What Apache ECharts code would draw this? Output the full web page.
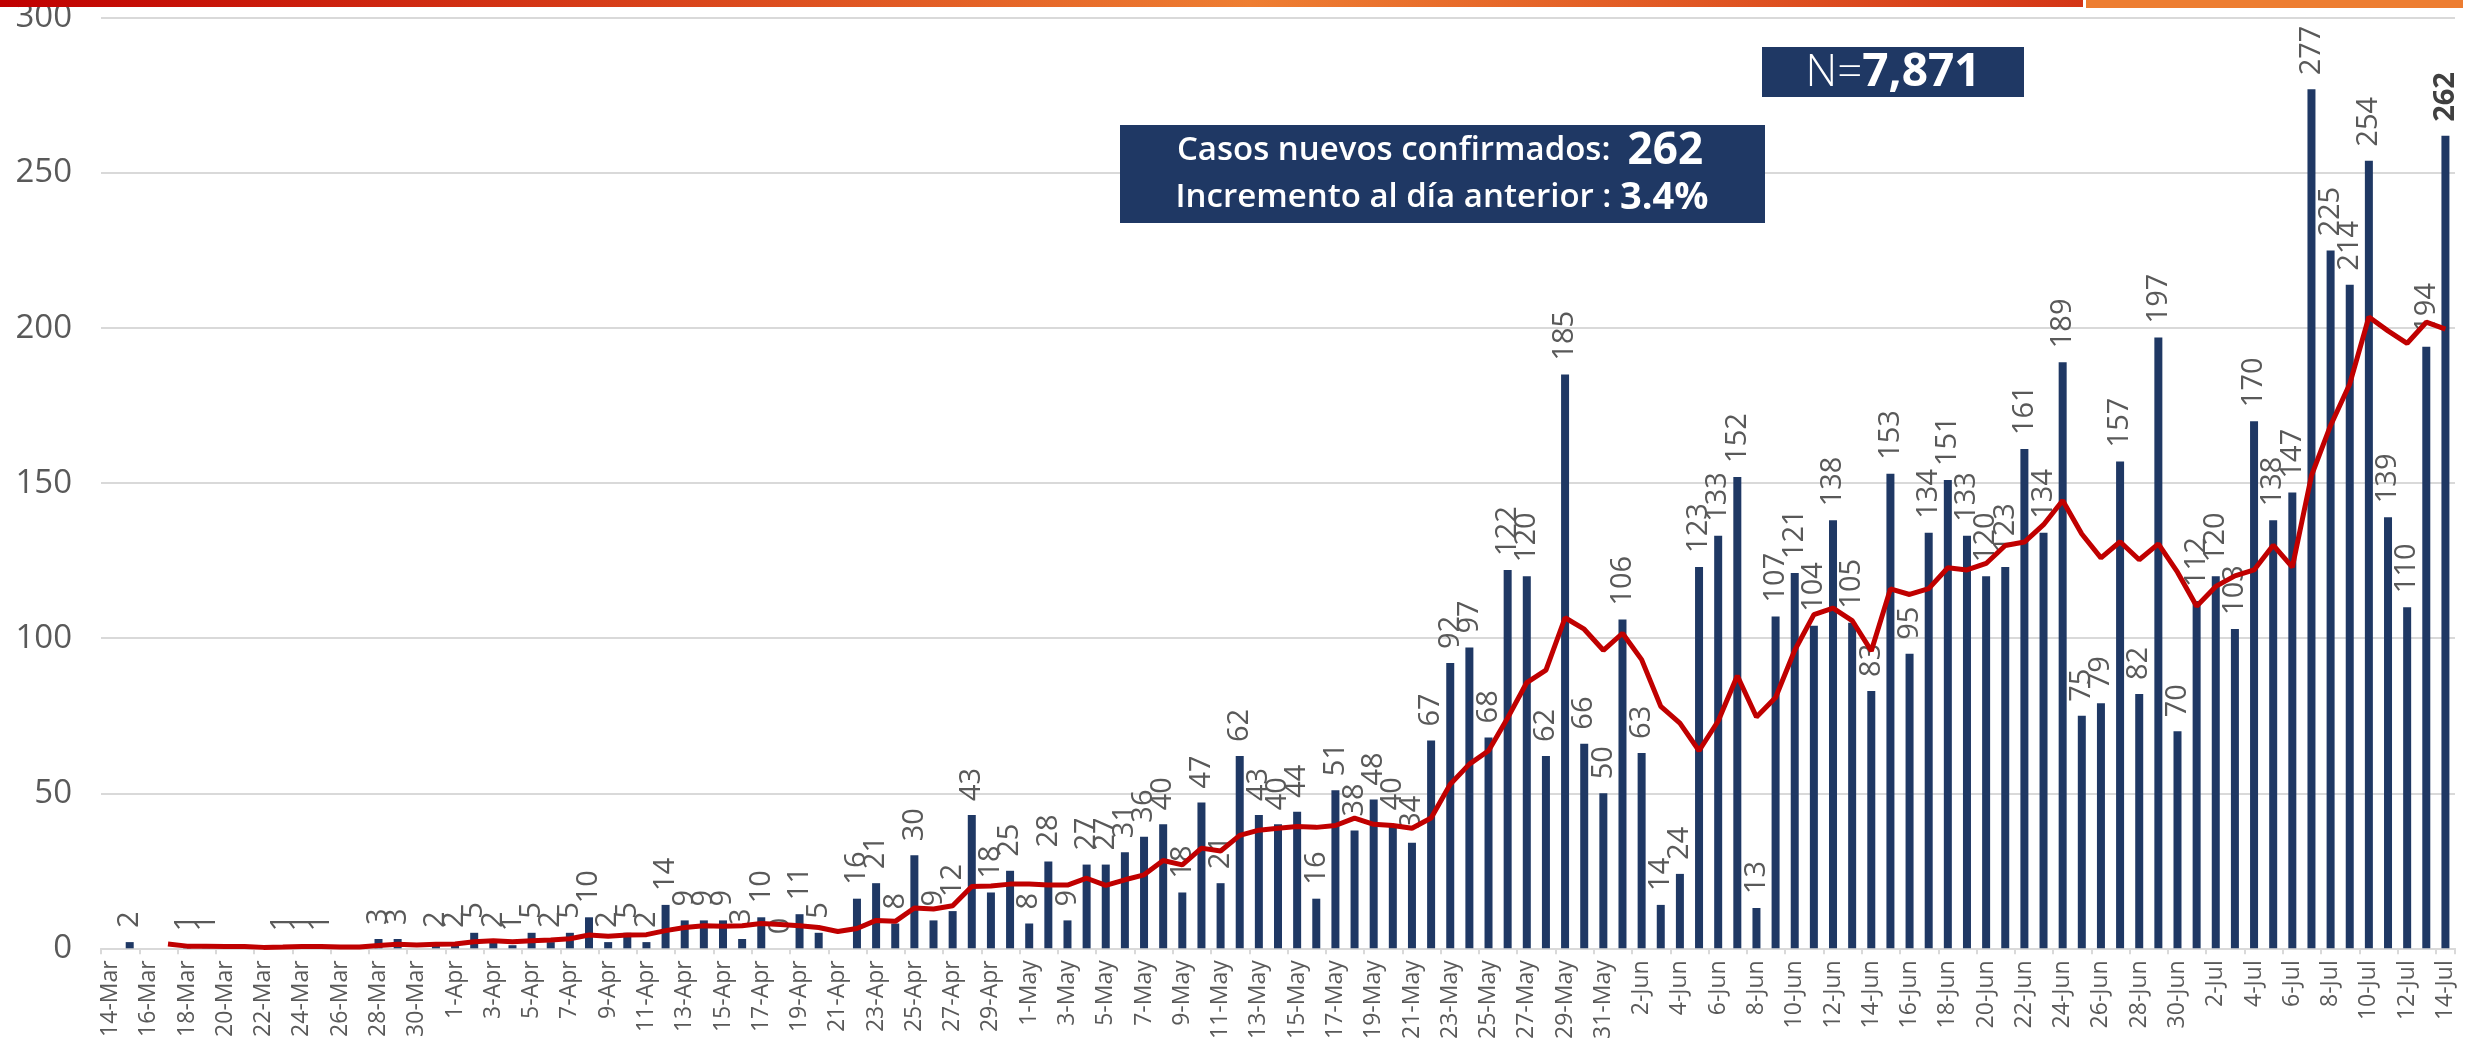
<!DOCTYPE html>
<html>
<head>
<meta charset="utf-8">
<script src="https://cdn.jsdelivr.net/npm/echarts@6/dist/echarts.min.js"></script>
<style>
html,body{margin:0;padding:0;background:#fff;}
#chart{width:2471px;height:1042px;}
</style>
</head>
<body>
<div id="chart"></div>
<script>
var categories = [
 '14-Mar','15-Mar','16-Mar','17-Mar','18-Mar','19-Mar','20-Mar','21-Mar','22-Mar','23-Mar','24-Mar','25-Mar','26-Mar','27-Mar','28-Mar','29-Mar','30-Mar','31-Mar',
 '1-Apr','2-Apr','3-Apr','4-Apr','5-Apr','6-Apr','7-Apr','8-Apr','9-Apr','10-Apr','11-Apr','12-Apr','13-Apr','14-Apr','15-Apr','16-Apr','17-Apr','18-Apr','19-Apr','20-Apr','21-Apr','22-Apr','23-Apr','24-Apr','25-Apr','26-Apr','27-Apr','28-Apr','29-Apr','30-Apr',
 '1-May','2-May','3-May','4-May','5-May','6-May','7-May','8-May','9-May','10-May','11-May','12-May','13-May','14-May','15-May','16-May','17-May','18-May','19-May','20-May','21-May','22-May','23-May','24-May','25-May','26-May','27-May','28-May','29-May','30-May','31-May',
 '1-Jun','2-Jun','3-Jun','4-Jun','5-Jun','6-Jun','7-Jun','8-Jun','9-Jun','10-Jun','11-Jun','12-Jun','13-Jun','14-Jun','15-Jun','16-Jun','17-Jun','18-Jun','19-Jun','20-Jun','21-Jun','22-Jun','23-Jun','24-Jun','25-Jun','26-Jun','27-Jun','28-Jun','29-Jun','30-Jun',
 '1-Jul','2-Jul','3-Jul','4-Jul','5-Jul','6-Jul','7-Jul','8-Jul','9-Jul','10-Jul','11-Jul','12-Jul','13-Jul','14-Jul'
];

// daily new confirmed cases (bars)
var dailyCases = [
 null,2,null,null,1,1,null,null,null,1,1,1,null,null,3,3,null,2,
 2,5,2,1,5,2,5,10,2,5,2,14,9,9,9,3,10,0,11,5,null,16,21,8,30,9,12,43,18,25,
 8,28,9,27,27,31,36,40,18,47,21,62,43,40,44,16,51,38,48,40,34,67,92,97,68,122,120,62,185,66,50,
 106,63,14,24,123,133,152,13,107,121,104,138,105,83,153,95,134,151,133,120,123,161,134,189,75,79,157,82,197,70,
 112,120,103,170,138,147,277,225,214,254,139,110,194,262
];

// 7-day moving average (red line)
var movingAverage = [
 null,null,null,1.4,0.7,0.7,0.6,0.6,0.3,0.4,0.6,0.6,0.4,0.4,0.9,1.3,1.1,1.3,
 1.4,2.1,2.4,2.1,2.4,2.7,3.1,4.3,3.9,4.3,4.4,5.7,6.7,7.3,7.1,7.3,8.0,7.7,7.3,6.7,5.4,6.4,9.0,8.7,13.0,12.7,13.7,19.9,20.1,20.7,
 20.7,20.4,20.4,22.6,20.3,22.1,23.7,28.3,26.9,32.3,31.4,36.4,38.1,38.7,39.3,39.0,39.6,42.0,40.0,39.6,38.7,42.0,52.9,59.4,63.7,74.3,85.7,89.7,106.6,102.9,96.1,
 101.6,93.1,78.0,72.6,63.7,73.3,87.9,74.6,80.9,96.1,107.6,109.7,105.7,95.9,115.9,114.1,116.0,122.7,122.0,124.1,129.9,131.0,136.6,144.4,133.6,125.9,131.1,125.3,130.4,121.3,
 110.3,116.7,120.1,122.0,130.0,122.9,152.4,168.6,182.0,203.6,199.1,195.1,201.9,199.7
];

var yTicks = [0, 50, 100, 150, 200, 250, 300];

var totalLabel = '7,871';
var newCasesLabel = '262';
var increaseLabel = '3.4%';

var FONT = "'Open Sans', 'Noto Sans', sans-serif";
var NAVY = '#1F3864';

var barData = dailyCases.map(function (v, i) {
  if (i === dailyCases.length - 1 && v !== null) {
    return { value: v, label: { fontWeight: 'bold', color: '#404040' } };
  }
  return v;
});

var chart = echarts.init(document.getElementById('chart'), null, { renderer: 'canvas' });

chart.setOption({
  animation: false,
  backgroundColor: '#ffffff',
  grid: { left: 101, right: 16, top: 18, bottom: 91, containLabel: false },
  xAxis: {
    type: 'category',
    data: categories,
    boundaryGap: true,
    axisLine: { lineStyle: { color: '#D9D9D9', width: 2 } },
    axisTick: { show: true, interval: 1, length: 6, lineStyle: { color: '#D9D9D9', width: 2 } },
    axisLabel: { interval: 1, rotate: 90, margin: 12, fontSize: 23, color: '#595959', fontFamily: FONT }
  },
  yAxis: {
    type: 'value',
    min: yTicks[0],
    max: yTicks[yTicks.length - 1],
    interval: yTicks[1] - yTicks[0],
    axisLine: { show: false },
    axisTick: { show: false },
    axisLabel: { fontSize: 33, color: '#595959', margin: 29, fontFamily: FONT },
    splitLine: { lineStyle: { color: '#D9D9D9', width: 2 } }
  },
  series: [
    {
      type: 'bar',
      data: barData,
      barWidth: 8,
      itemStyle: { color: NAVY },
      label: {
        show: true,
        position: 'top',
        rotate: 90,
        align: 'left',
        verticalAlign: 'middle',
        distance: 14,
        fontSize: 29,
        color: '#595959',
        fontFamily: FONT
      },
      z: 2
    },
    {
      type: 'line',
      data: movingAverage,
      symbol: 'none',
      smooth: false,
      connectNulls: false,
      lineStyle: { color: '#C00000', width: 5 },
      itemStyle: { color: '#C00000' },
      z: 3
    }
  ],
  graphic: [
    {
      type: 'rect',
      shape: { x: 0, y: 0, width: 2083, height: 7 },
      style: {
        fill: new echarts.graphic.LinearGradient(0, 0, 1, 0, [
          { offset: 0, color: '#C00000' },
          { offset: 0.6, color: '#EE7E32' },
          { offset: 1, color: '#D43516' }
        ])
      },
      z: 10
    },
    {
      type: 'rect',
      shape: { x: 2086, y: 0, width: 377, height: 8 },
      style: { fill: '#ED7D31' },
      z: 10
    },
    {
      type: 'rect',
      shape: { x: 1762, y: 47, width: 262, height: 50 },
      style: { fill: NAVY },
      z: 10
    },
    {
      type: 'text',
      x: 1893, y: 73,
      style: {
        text: '{n|N=}{b|' + totalLabel + '}',
        fill: '#ffffff',
        align: 'center',
        verticalAlign: 'middle',
        rich: {
          n: { fontSize: 44, fill: '#ffffff', fontFamily: FONT, fontWeight: 300 },
          b: { fontSize: 46, fill: '#ffffff', fontFamily: FONT, fontWeight: 'bold' }
        }
      },
      z: 11
    },
    {
      type: 'rect',
      shape: { x: 1120, y: 125, width: 645, height: 98 },
      style: { fill: NAVY },
      z: 10
    },
    {
      type: 'text',
      x: 1440, y: 151,
      style: {
        text: '{a|Casos nuevos confirmados:  }{b|' + newCasesLabel + '}',
        fill: '#ffffff',
        align: 'center',
        verticalAlign: 'middle',
        rich: {
          a: { fontSize: 33, fill: '#ffffff', fontFamily: FONT, fontWeight: 600 },
          b: { fontSize: 44, fill: '#ffffff', fontFamily: FONT, fontWeight: 'bold' }
        }
      },
      z: 11
    },
    {
      type: 'text',
      x: 1442, y: 198,
      style: {
        text: '{a|Incremento al día anterior : }{b|' + increaseLabel + '}',
        fill: '#ffffff',
        align: 'center',
        verticalAlign: 'middle',
        rich: {
          a: { fontSize: 33, fill: '#ffffff', fontFamily: FONT, fontWeight: 600 },
          b: { fontSize: 38, fill: '#ffffff', fontFamily: FONT, fontWeight: 'bold' }
        }
      },
      z: 11
    }
  ]
});
</script>
</body>
</html>
